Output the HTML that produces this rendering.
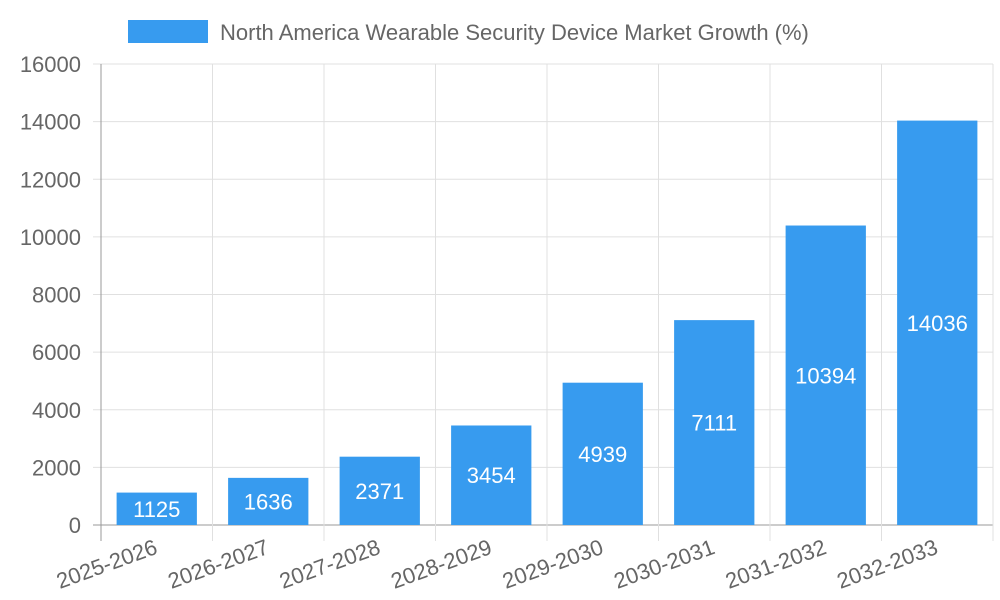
<!DOCTYPE html>
<html><head><meta charset="utf-8"><style>
body{margin:0;background:#fff;}
svg{display:block;font-family:"Liberation Sans",sans-serif;}
</style></head><body>
<svg id="chart" width="1000" height="600">
<g id="legend">
<rect x="128" y="20" width="80" height="23" fill="#379bef"></rect>
<text x="220" y="40" font-size="22" fill="#666">North America Wearable Security Device Market Growth (%)</text>
</g>
<g id="grid"></g>
<g id="bars"></g>
<g id="axes"></g>
</svg>
<script>
const categories=["2025-2026","2026-2027","2027-2028","2028-2029","2029-2030","2030-2031","2031-2032","2032-2033"];
const values=[1125,1636,2371,3454,4939,7111,10394,14036];
const yTicks=[0,2000,4000,6000,8000,10000,12000,14000,16000];
const NS="http://www.w3.org/2000/svg";
const L=101,R=993,T=64,B=525,yMax=16000;
const band=(R-L)/categories.length;
const y=v=>B-(v/yMax)*(B-T);
const xc=i=>L+band*(i+0.5);
function mk(tag,attrs,parent){const e=document.createElementNS(NS,tag);for(const k in attrs)e.setAttribute(k,attrs[k]);parent.appendChild(e);return e;}
const grid=document.getElementById('grid'),bars=document.getElementById('bars'),axes=document.getElementById('axes');
yTicks.forEach(t=>{
 const l=mk('line',{x1:L-8,x2:R,y1:y(t),y2:y(t),stroke:t===0?'#999':'#e0e0e0','stroke-width':1},grid);
 
 
 const tx=mk('text',{x:L-20,y:y(t)+8,'text-anchor':'end','font-size':22,fill:'#666'},axes);
 tx.textContent=t;
 
 
});
for(let i=0;i<=categories.length;i++){
 const x=L+band*i;
 const l=mk('line',{x1:x,x2:x,y1:T,y2:B+16,stroke:i===0?'#999':'#e0e0e0','stroke-width':1},grid);
 
 
}
const bw=band*0.72;
values.forEach((v,i)=>{
 const r=mk('rect',{x:xc(i)-bw/2,y:y(v),width:bw,height:B-y(v),fill:'#379bef'},bars);
 
 
 const t=mk('text',{x:xc(i),y:(y(v)+B)/2+8,'text-anchor':'middle','font-size':22,fill:'#fff'},bars);
 t.textContent=v;
 
 
});
categories.forEach((c,i)=>{
 const x=xc(i)+2,yy=B+28;
 const t=mk('text',{x:x,y:yy,'text-anchor':'end','font-size':22,fill:'#666',transform:`rotate(-20 ${x} ${yy})`},axes);
 t.textContent=c;
 
 
});
</script>
</body></html>
